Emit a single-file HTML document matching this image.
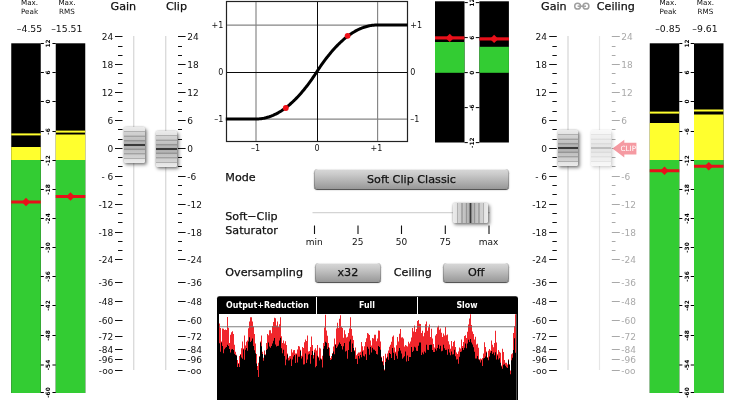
<!DOCTYPE html>
<html lang="en"><head><meta charset="utf-8"><title>Soft Clip</title>
<style>
html,body{margin:0;padding:0;background:#fff;}
body{width:735px;height:400px;position:relative;overflow:hidden;font-family:"DejaVu Sans","Liberation Sans",sans-serif;color:#111;}
#ui{position:absolute;left:0;top:0;width:735px;height:400px;}
svg{position:absolute;left:0;top:0;}
svg text{font-family:"DejaVu Sans","Liberation Sans",sans-serif;}
.lbl{position:absolute;white-space:nowrap;font-size:11.15px;line-height:14px;color:#111;-webkit-text-stroke:.25px #111;}
.sm{position:absolute;white-space:nowrap;font-size:7.2px;line-height:9.3px;text-align:center;color:#111;}
.val{position:absolute;white-space:nowrap;font-size:9.3px;line-height:12px;text-align:center;color:#111;}
.btn{position:absolute;box-sizing:border-box;height:19px;border:0;border-radius:3.5px;-webkit-text-stroke:.25px #111;padding:1.4px 0 0 0;margin:0;
 font-family:"DejaVu Sans","Liberation Sans",sans-serif;font-size:11.2px;line-height:18.5px;color:#111;text-align:center;
 background:linear-gradient(#d9d9d9 0%,#cbcbcb 25%,#b0b0b0 65%,#989898 100%);
 box-shadow:0 .8px 0 #3a3a3a,0 1px 1.5px rgba(0,0,0,.4),inset 1px 0 0 rgba(0,0,0,.18),inset -1px 0 0 rgba(0,0,0,.18),inset 0 1px 0 rgba(255,255,255,.5);}
.knob{position:absolute;box-sizing:border-box;border-radius:2px;box-shadow:1.5px 2px 3.5px rgba(0,0,0,.45),0 0 2px rgba(0,0,0,.3);}
.kv{width:20.6px;height:36px;background:linear-gradient(180deg,#ebebeb 0,#e4e4e4 10%,#b0b0b0 11.5%,#b0b0b0 13.5%,#d2d2d2 15%,#cecece 23%,#a2a2a2 24.5%,#a2a2a2 27%,#c6c6c6 28.5%,#c0c0c0 35.5%,#969696 37%,#969696 39.5%,#b8b8b8 41%,#b0b0b0 46.5%,#3a3a3a 48.2%,#3a3a3a 51.8%,#b0b0b0 53.5%,#b8b8b8 59%,#969696 60.5%,#969696 63%,#c0c0c0 64.5%,#c6c6c6 71.5%,#a2a2a2 73%,#a2a2a2 75.5%,#cecece 77%,#d2d2d2 85%,#b0b0b0 86.5%,#b0b0b0 88.5%,#e4e4e4 90%,#ebebeb 100%);}
.kh{width:35.5px;height:20.4px;background:linear-gradient(90deg,#ebebeb 0,#e4e4e4 10%,#b0b0b0 11.5%,#b0b0b0 13.5%,#d2d2d2 15%,#cecece 23%,#a2a2a2 24.5%,#a2a2a2 27%,#c6c6c6 28.5%,#c0c0c0 35.5%,#969696 37%,#969696 39.5%,#b8b8b8 41%,#b0b0b0 46.5%,#3a3a3a 48.2%,#3a3a3a 51.8%,#b0b0b0 53.5%,#b8b8b8 59%,#969696 60.5%,#969696 63%,#c0c0c0 64.5%,#c6c6c6 71.5%,#a2a2a2 73%,#a2a2a2 75.5%,#cecece 77%,#d2d2d2 85%,#b0b0b0 86.5%,#b0b0b0 88.5%,#e4e4e4 90%,#ebebeb 100%);}
.hdr{position:absolute;top:297px;height:16px;line-height:16px;font-family:"DejaVu Sans Condensed","DejaVu Sans","Liberation Sans",sans-serif;font-weight:bold;font-size:8.8px;color:#fff;text-align:center;white-space:nowrap;}
</style></head><body><div id="ui">
<svg width="735" height="400" viewBox="0 0 735 400" font-size="9">

<g id="meters-in">
<rect x="11.25" y="43.3" width="29.5" height="349.7" fill="#000"/>
<rect x="11.25" y="147" width="29.5" height="13" fill="#ffff2e"/>
<rect x="11.25" y="160" width="29.5" height="233.0" fill="#33cc33"/>
<rect x="11.25" y="133.4" width="29.5" height="2" fill="#ffff2e"/>
<rect x="11.25" y="200.5" width="29.5" height="3" fill="#e8101a"/>
<path d="M21.8 202L26.0 197.8L30.2 202L26.0 206.2Z" fill="#e8101a"/>
<rect x="55.75" y="43.3" width="29.5" height="349.7" fill="#000"/>
<rect x="55.75" y="134.5" width="29.5" height="25.5" fill="#ffff2e"/>
<rect x="55.75" y="160" width="29.5" height="233.0" fill="#33cc33"/>
<rect x="55.75" y="130.6" width="29.5" height="2" fill="#ffff2e"/>
<rect x="55.75" y="195.0" width="29.5" height="3" fill="#e8101a"/>
<path d="M66.3 196.5L70.5 192.3L74.7 196.5L70.5 200.7Z" fill="#e8101a"/>
<path d="M40.75 43.5h3.1M55.75 43.5h-3.3" stroke="#000" stroke-width="1"/>
<text transform="translate(50.35 43.5) rotate(-90)" text-anchor="middle" font-family='"Liberation Sans",sans-serif' font-weight="bold" font-size="5.9">12</text>
<path d="M40.75 72.5h3.1M55.75 72.5h-3.3" stroke="#000" stroke-width="1"/>
<text transform="translate(50.35 72.5) rotate(-90)" text-anchor="middle" font-family='"Liberation Sans",sans-serif' font-weight="bold" font-size="5.9">6</text>
<path d="M40.75 101.5h3.1M55.75 101.5h-3.3" stroke="#000" stroke-width="1"/>
<text transform="translate(50.35 101.5) rotate(-90)" text-anchor="middle" font-family='"Liberation Sans",sans-serif' font-weight="bold" font-size="5.9">0</text>
<path d="M40.75 131.5h3.1M55.75 131.5h-3.3" stroke="#000" stroke-width="1"/>
<text transform="translate(50.35 131.5) rotate(-90)" text-anchor="middle" font-family='"Liberation Sans",sans-serif' font-weight="bold" font-size="5.9">-6</text>
<path d="M40.75 160.5h3.1M55.75 160.5h-3.3" stroke="#000" stroke-width="1"/>
<text transform="translate(50.35 160.5) rotate(-90)" text-anchor="middle" font-family='"Liberation Sans",sans-serif' font-weight="bold" font-size="5.9">-12</text>
<path d="M40.75 189.5h3.1M55.75 189.5h-3.3" stroke="#000" stroke-width="1"/>
<text transform="translate(50.35 189.5) rotate(-90)" text-anchor="middle" font-family='"Liberation Sans",sans-serif' font-weight="bold" font-size="5.9">-18</text>
<path d="M40.75 218.5h3.1M55.75 218.5h-3.3" stroke="#000" stroke-width="1"/>
<text transform="translate(50.35 218.5) rotate(-90)" text-anchor="middle" font-family='"Liberation Sans",sans-serif' font-weight="bold" font-size="5.9">-24</text>
<path d="M40.75 247.5h3.1M55.75 247.5h-3.3" stroke="#000" stroke-width="1"/>
<text transform="translate(50.35 247.5) rotate(-90)" text-anchor="middle" font-family='"Liberation Sans",sans-serif' font-weight="bold" font-size="5.9">-30</text>
<path d="M40.75 276.5h3.1M55.75 276.5h-3.3" stroke="#000" stroke-width="1"/>
<text transform="translate(50.35 276.5) rotate(-90)" text-anchor="middle" font-family='"Liberation Sans",sans-serif' font-weight="bold" font-size="5.9">-36</text>
<path d="M40.75 305.5h3.1M55.75 305.5h-3.3" stroke="#000" stroke-width="1"/>
<text transform="translate(50.35 305.5) rotate(-90)" text-anchor="middle" font-family='"Liberation Sans",sans-serif' font-weight="bold" font-size="5.9">-42</text>
<path d="M40.75 335.5h3.1M55.75 335.5h-3.3" stroke="#000" stroke-width="1"/>
<text transform="translate(50.35 335.5) rotate(-90)" text-anchor="middle" font-family='"Liberation Sans",sans-serif' font-weight="bold" font-size="5.9">-48</text>
<path d="M40.75 365.0h3.1M55.75 365.0h-3.3" stroke="#000" stroke-width="1"/>
<text transform="translate(50.35 365.0) rotate(-90)" text-anchor="middle" font-family='"Liberation Sans",sans-serif' font-weight="bold" font-size="5.9">-54</text>
<path d="M40.75 392.5h3.1M55.75 392.5h-3.3" stroke="#000" stroke-width="1"/>
<text transform="translate(50.35 392.5) rotate(-90)" text-anchor="middle" font-family='"Liberation Sans",sans-serif' font-weight="bold" font-size="5.9">-60</text>
</g>
<g id="meters-out">
<rect x="649.75" y="43.3" width="29.5" height="349.7" fill="#000"/>
<rect x="649.75" y="123" width="29.5" height="37" fill="#ffff2e"/>
<rect x="649.75" y="160" width="29.5" height="233.0" fill="#33cc33"/>
<rect x="649.75" y="111.6" width="29.5" height="2" fill="#ffff2e"/>
<rect x="649.75" y="169.25" width="29.5" height="3" fill="#e8101a"/>
<path d="M660.3 170.75L664.5 166.55L668.7 170.75L664.5 174.95Z" fill="#e8101a"/>
<rect x="694.0" y="43.3" width="29.5" height="349.7" fill="#000"/>
<rect x="694.0" y="114.5" width="29.5" height="45.5" fill="#ffff2e"/>
<rect x="694.0" y="160" width="29.5" height="233.0" fill="#33cc33"/>
<rect x="694.0" y="109.5" width="29.5" height="2" fill="#ffff2e"/>
<rect x="694.0" y="164.75" width="29.5" height="3" fill="#e8101a"/>
<path d="M704.55 166.25L708.75 162.05L712.95 166.25L708.75 170.45Z" fill="#e8101a"/>
<path d="M679.25 43.5h3.1M694.0 43.5h-3.3" stroke="#000" stroke-width="1"/>
<text transform="translate(688.725 43.5) rotate(-90)" text-anchor="middle" font-family='"Liberation Sans",sans-serif' font-weight="bold" font-size="5.9">12</text>
<path d="M679.25 72.5h3.1M694.0 72.5h-3.3" stroke="#000" stroke-width="1"/>
<text transform="translate(688.725 72.5) rotate(-90)" text-anchor="middle" font-family='"Liberation Sans",sans-serif' font-weight="bold" font-size="5.9">6</text>
<path d="M679.25 101.5h3.1M694.0 101.5h-3.3" stroke="#000" stroke-width="1"/>
<text transform="translate(688.725 101.5) rotate(-90)" text-anchor="middle" font-family='"Liberation Sans",sans-serif' font-weight="bold" font-size="5.9">0</text>
<path d="M679.25 131.5h3.1M694.0 131.5h-3.3" stroke="#000" stroke-width="1"/>
<text transform="translate(688.725 131.5) rotate(-90)" text-anchor="middle" font-family='"Liberation Sans",sans-serif' font-weight="bold" font-size="5.9">-6</text>
<path d="M679.25 160.5h3.1M694.0 160.5h-3.3" stroke="#000" stroke-width="1"/>
<text transform="translate(688.725 160.5) rotate(-90)" text-anchor="middle" font-family='"Liberation Sans",sans-serif' font-weight="bold" font-size="5.9">-12</text>
<path d="M679.25 189.5h3.1M694.0 189.5h-3.3" stroke="#000" stroke-width="1"/>
<text transform="translate(688.725 189.5) rotate(-90)" text-anchor="middle" font-family='"Liberation Sans",sans-serif' font-weight="bold" font-size="5.9">-18</text>
<path d="M679.25 218.5h3.1M694.0 218.5h-3.3" stroke="#000" stroke-width="1"/>
<text transform="translate(688.725 218.5) rotate(-90)" text-anchor="middle" font-family='"Liberation Sans",sans-serif' font-weight="bold" font-size="5.9">-24</text>
<path d="M679.25 247.5h3.1M694.0 247.5h-3.3" stroke="#000" stroke-width="1"/>
<text transform="translate(688.725 247.5) rotate(-90)" text-anchor="middle" font-family='"Liberation Sans",sans-serif' font-weight="bold" font-size="5.9">-30</text>
<path d="M679.25 276.5h3.1M694.0 276.5h-3.3" stroke="#000" stroke-width="1"/>
<text transform="translate(688.725 276.5) rotate(-90)" text-anchor="middle" font-family='"Liberation Sans",sans-serif' font-weight="bold" font-size="5.9">-36</text>
<path d="M679.25 305.5h3.1M694.0 305.5h-3.3" stroke="#000" stroke-width="1"/>
<text transform="translate(688.725 305.5) rotate(-90)" text-anchor="middle" font-family='"Liberation Sans",sans-serif' font-weight="bold" font-size="5.9">-42</text>
<path d="M679.25 335.5h3.1M694.0 335.5h-3.3" stroke="#000" stroke-width="1"/>
<text transform="translate(688.725 335.5) rotate(-90)" text-anchor="middle" font-family='"Liberation Sans",sans-serif' font-weight="bold" font-size="5.9">-48</text>
<path d="M679.25 365.0h3.1M694.0 365.0h-3.3" stroke="#000" stroke-width="1"/>
<text transform="translate(688.725 365.0) rotate(-90)" text-anchor="middle" font-family='"Liberation Sans",sans-serif' font-weight="bold" font-size="5.9">-54</text>
<path d="M679.25 392.5h3.1M694.0 392.5h-3.3" stroke="#000" stroke-width="1"/>
<text transform="translate(688.725 392.5) rotate(-90)" text-anchor="middle" font-family='"Liberation Sans",sans-serif' font-weight="bold" font-size="5.9">-60</text>
</g>
<path d="M133.75 36V370M165.75 36V370M568 36V370" stroke="#d4d4d4" stroke-width="1.15"/>
<path d="M599.5 36V370" stroke="#e6e6e6" stroke-width="1.15"/>
<g id="scale-gain-l"><path d="M118 46.5H122.5M118 55.5H122.5M118 73.5H122.5M118 83.5H122.5M118 101.5H122.5M118 111.5H122.5M118 129.5H122.5M118 139.5H122.5M118 157.5H122.5M118 166.5H122.5M118 185.5H122.5M118 194.5H122.5M118 213.5H122.5M118 222.5H122.5M118 241.5H122.5M118 250.5H122.5M115 36.5H122.5M115 64.5H122.5M115 92.5H122.5M115 120.5H122.5M115 148.5H122.5M115 176.5H122.5M115 204.5H122.5M115 232.5H122.5M115 259.5H122.5M115 282.5H122.5M115 301.5H122.5M115 320.5H122.5M115 336.5H122.5M115 349.5H122.5M115 359.5H122.5M115 370.5H122.5" stroke="#111" stroke-width="1" fill="none"/>
<text x="113.3" y="39.70" text-anchor="end" fill="#111">24</text>
<text x="113.3" y="67.70" text-anchor="end" fill="#111">18</text>
<text x="113.3" y="95.70" text-anchor="end" fill="#111">12</text>
<text x="113.3" y="123.70" text-anchor="end" fill="#111">6</text>
<text x="113.3" y="151.70" text-anchor="end" fill="#111">0</text>
<text x="113.3" y="179.70" text-anchor="end" fill="#111">- 6</text>
<text x="113.3" y="207.70" text-anchor="end" fill="#111">-12</text>
<text x="113.3" y="235.70" text-anchor="end" fill="#111">-18</text>
<text x="113.3" y="262.70" text-anchor="end" fill="#111">-24</text>
<text x="113.3" y="285.70" text-anchor="end" fill="#111">-36</text>
<text x="113.3" y="304.70" text-anchor="end" fill="#111">-48</text>
<text x="113.3" y="323.70" text-anchor="end" fill="#111">-60</text>
<text x="113.3" y="339.70" text-anchor="end" fill="#111">-72</text>
<text x="113.3" y="352.70" text-anchor="end" fill="#111">-84</text>
<text x="113.3" y="362.70" text-anchor="end" fill="#111">-96</text>
<text x="113.3" y="373.70" text-anchor="end" fill="#111">-oo</text></g>
<g id="scale-clip"><path d="M178 46.5H182M178 55.5H182M178 73.5H182M178 83.5H182M178 101.5H182M178 111.5H182M178 129.5H182M178 139.5H182M178 157.5H182M178 166.5H182M178 185.5H182M178 194.5H182M178 213.5H182M178 222.5H182M178 241.5H182M178 250.5H182M178 36.5H185.6M178 64.5H185.6M178 92.5H185.6M178 120.5H185.6M178 148.5H185.6M178 176.5H185.6M178 204.5H185.6M178 232.5H185.6M178 259.5H185.6M178 282.5H185.6M178 301.5H185.6M178 320.5H185.6M178 336.5H185.6M178 349.5H185.6M178 359.5H185.6M178 370.5H185.6" stroke="#111" stroke-width="1" fill="none"/>
<text x="187.2" y="39.70" text-anchor="start" fill="#111">24</text>
<text x="187.2" y="67.70" text-anchor="start" fill="#111">18</text>
<text x="187.2" y="95.70" text-anchor="start" fill="#111">12</text>
<text x="187.2" y="123.70" text-anchor="start" fill="#111">6</text>
<text x="187.2" y="151.70" text-anchor="start" fill="#111">0</text>
<text x="187.2" y="179.70" text-anchor="start" fill="#111">-6</text>
<text x="187.2" y="207.70" text-anchor="start" fill="#111">-12</text>
<text x="187.2" y="235.70" text-anchor="start" fill="#111">-18</text>
<text x="187.2" y="262.70" text-anchor="start" fill="#111">-24</text>
<text x="187.2" y="285.70" text-anchor="start" fill="#111">-36</text>
<text x="187.2" y="304.70" text-anchor="start" fill="#111">-48</text>
<text x="187.2" y="323.70" text-anchor="start" fill="#111">-60</text>
<text x="187.2" y="339.70" text-anchor="start" fill="#111">-72</text>
<text x="187.2" y="352.70" text-anchor="start" fill="#111">-84</text>
<text x="187.2" y="362.70" text-anchor="start" fill="#111">-96</text>
<text x="187.2" y="373.70" text-anchor="start" fill="#111">-oo</text></g>
<g id="scale-gain-r"><path d="M552.4 46.5H556.8M552.4 55.5H556.8M552.4 73.5H556.8M552.4 83.5H556.8M552.4 101.5H556.8M552.4 111.5H556.8M552.4 129.5H556.8M552.4 139.5H556.8M552.4 157.5H556.8M552.4 166.5H556.8M552.4 185.5H556.8M552.4 194.5H556.8M552.4 213.5H556.8M552.4 222.5H556.8M552.4 241.5H556.8M552.4 250.5H556.8M549.2 36.5H556.8M549.2 64.5H556.8M549.2 92.5H556.8M549.2 120.5H556.8M549.2 148.5H556.8M549.2 176.5H556.8M549.2 204.5H556.8M549.2 232.5H556.8M549.2 259.5H556.8M549.2 282.5H556.8M549.2 301.5H556.8M549.2 320.5H556.8M549.2 336.5H556.8M549.2 349.5H556.8M549.2 359.5H556.8M549.2 370.5H556.8" stroke="#111" stroke-width="1" fill="none"/>
<text x="547" y="39.70" text-anchor="end" fill="#111">24</text>
<text x="547" y="67.70" text-anchor="end" fill="#111">18</text>
<text x="547" y="95.70" text-anchor="end" fill="#111">12</text>
<text x="547" y="123.70" text-anchor="end" fill="#111">6</text>
<text x="547" y="151.70" text-anchor="end" fill="#111">0</text>
<text x="547" y="179.70" text-anchor="end" fill="#111">- 6</text>
<text x="547" y="207.70" text-anchor="end" fill="#111">-12</text>
<text x="547" y="235.70" text-anchor="end" fill="#111">-18</text>
<text x="547" y="262.70" text-anchor="end" fill="#111">-24</text>
<text x="547" y="285.70" text-anchor="end" fill="#111">-36</text>
<text x="547" y="304.70" text-anchor="end" fill="#111">-48</text>
<text x="547" y="323.70" text-anchor="end" fill="#111">-60</text>
<text x="547" y="339.70" text-anchor="end" fill="#111">-72</text>
<text x="547" y="352.70" text-anchor="end" fill="#111">-84</text>
<text x="547" y="362.70" text-anchor="end" fill="#111">-96</text>
<text x="547" y="373.70" text-anchor="end" fill="#111">-oo</text></g>
<g id="scale-ceil"><path d="M611.8 46.5H615.5M611.8 55.5H615.5M611.8 73.5H615.5M611.8 83.5H615.5M611.8 101.5H615.5M611.8 111.5H615.5M611.8 129.5H615.5M611.8 139.5H615.5M611.8 157.5H615.5M611.8 166.5H615.5M611.8 185.5H615.5M611.8 194.5H615.5M611.8 213.5H615.5M611.8 222.5H615.5M611.8 241.5H615.5M611.8 250.5H615.5M611.8 36.5H619.8M611.8 64.5H619.8M611.8 92.5H619.8M611.8 120.5H619.8M611.8 148.5H619.8M611.8 176.5H619.8M611.8 204.5H619.8M611.8 232.5H619.8M611.8 259.5H619.8M611.8 282.5H619.8M611.8 301.5H619.8M611.8 320.5H619.8M611.8 336.5H619.8M611.8 349.5H619.8M611.8 359.5H619.8M611.8 370.5H619.8" stroke="#a9a9a9" stroke-width="1" fill="none"/>
<text x="621.2" y="39.70" text-anchor="start" fill="#a9a9a9">24</text>
<text x="621.2" y="67.70" text-anchor="start" fill="#a9a9a9">18</text>
<text x="621.2" y="95.70" text-anchor="start" fill="#a9a9a9">12</text>
<text x="621.2" y="123.70" text-anchor="start" fill="#a9a9a9">6</text>
<text x="621.2" y="151.70" text-anchor="start" fill="#a9a9a9">0</text>
<text x="621.2" y="179.70" text-anchor="start" fill="#a9a9a9">-6</text>
<text x="621.2" y="207.70" text-anchor="start" fill="#a9a9a9">-12</text>
<text x="621.2" y="235.70" text-anchor="start" fill="#a9a9a9">-18</text>
<text x="621.2" y="262.70" text-anchor="start" fill="#a9a9a9">-24</text>
<text x="621.2" y="285.70" text-anchor="start" fill="#a9a9a9">-36</text>
<text x="621.2" y="304.70" text-anchor="start" fill="#a9a9a9">-48</text>
<text x="621.2" y="323.70" text-anchor="start" fill="#a9a9a9">-60</text>
<text x="621.2" y="339.70" text-anchor="start" fill="#a9a9a9">-72</text>
<text x="621.2" y="352.70" text-anchor="start" fill="#a9a9a9">-84</text>
<text x="621.2" y="362.70" text-anchor="start" fill="#a9a9a9">-96</text>
<text x="621.2" y="373.70" text-anchor="start" fill="#a9a9a9">-oo</text></g>
<g id="graph">
<rect x="226.5" y="1.5" width="181.0" height="140.0" fill="#fff" stroke="#222" stroke-width="1.2"/>
<path d="M256 2V141M377.6 2V141M227 25.1H407M227 119.1H407" stroke="#858585" stroke-width="1.15" fill="none"/>
<path d="M317.5 2V141M227 72.5H407" stroke="#0a0a0a" stroke-width="1" fill="none"/>
<path d="M225.80 119.00L226.71 119.00L227.62 119.00L228.53 119.00L229.44 119.00L230.34 119.00L231.25 119.00L232.16 119.00L233.07 119.00L233.98 119.00L234.89 119.00L235.80 119.00L236.71 119.00L237.62 119.00L238.53 119.00L239.44 119.00L240.34 119.00L241.25 119.00L242.16 119.00L243.07 119.00L243.98 119.00L244.89 119.00L245.80 119.00L246.71 119.00L247.62 119.00L248.52 119.00L249.43 119.00L250.34 119.00L251.25 119.00L252.16 119.00L253.07 119.00L253.98 119.00L254.89 119.00L255.80 119.00L256.71 119.00L257.62 118.97L258.52 118.92L259.43 118.86L260.34 118.77L261.25 118.66L262.16 118.53L263.07 118.38L263.98 118.21L264.89 118.01L265.80 117.80L266.70 117.56L267.61 117.30L268.52 117.02L269.43 116.73L270.34 116.40L271.25 116.06L272.16 115.70L273.07 115.32L273.98 114.91L274.89 114.48L275.79 114.04L276.70 113.57L277.61 113.08L278.52 112.57L279.43 112.03L280.34 111.48L281.25 110.91L282.16 110.31L283.07 109.69L283.98 109.05L284.88 108.40L285.79 107.72L286.70 107.01L287.61 106.29L288.52 105.55L289.43 104.78L290.34 104.00L291.25 103.19L292.16 102.36L293.07 101.51L293.97 100.64L294.88 99.75L295.79 98.84L296.70 97.90L297.61 96.95L298.52 95.97L299.43 94.97L300.34 93.95L301.25 92.91L302.16 91.85L303.06 90.77L303.97 89.67L304.88 88.54L305.79 87.40L306.70 86.23L307.61 85.04L308.52 83.83L309.43 82.60L310.34 81.35L311.25 80.08L312.15 78.79L313.06 77.47L313.97 76.13L314.88 74.78L315.79 73.40L316.70 72.00L317.61 70.60L318.52 69.22L319.43 67.87L320.34 66.53L321.25 65.21L322.15 63.92L323.06 62.65L323.97 61.40L324.88 60.17L325.79 58.96L326.70 57.77L327.61 56.60L328.52 55.46L329.43 54.33L330.33 53.23L331.24 52.15L332.15 51.09L333.06 50.05L333.97 49.03L334.88 48.03L335.79 47.05L336.70 46.10L337.61 45.16L338.52 44.25L339.43 43.36L340.33 42.49L341.24 41.64L342.15 40.81L343.06 40.00L343.97 39.22L344.88 38.45L345.79 37.71L346.70 36.99L347.61 36.28L348.51 35.60L349.42 34.95L350.33 34.31L351.24 33.69L352.15 33.09L353.06 32.52L353.97 31.97L354.88 31.43L355.79 30.92L356.70 30.43L357.60 29.96L358.51 29.52L359.42 29.09L360.33 28.68L361.24 28.30L362.15 27.94L363.06 27.60L363.97 27.27L364.88 26.98L365.79 26.70L366.69 26.44L367.60 26.20L368.51 25.99L369.42 25.79L370.33 25.62L371.24 25.47L372.15 25.34L373.06 25.23L373.97 25.14L374.88 25.08L375.78 25.03L376.69 25.00L377.60 25.00L378.51 25.00L379.42 25.00L380.33 25.00L381.24 25.00L382.15 25.00L383.06 25.00L383.97 25.00L384.88 25.00L385.78 25.00L386.69 25.00L387.60 25.00L388.51 25.00L389.42 25.00L390.33 25.00L391.24 25.00L392.15 25.00L393.06 25.00L393.96 25.00L394.87 25.00L395.78 25.00L396.69 25.00L397.60 25.00L398.51 25.00L399.42 25.00L400.33 25.00L401.24 25.00L402.15 25.00L403.05 25.00L403.96 25.00L404.87 25.00L405.78 25.00L406.69 25.00L407.60 25.00" stroke="#000" stroke-width="3" fill="none" stroke-linejoin="round"/>
<circle cx="347.6" cy="35.8" r="2.9" fill="#f01018"/>
<circle cx="285.8" cy="108" r="2.9" fill="#f01018"/>
<g font-size="8" fill="#111">
<text x="223.4" y="28" text-anchor="end">+1</text>
<text x="223.4" y="75" text-anchor="end">0</text>
<text x="223.4" y="122" text-anchor="end">–1</text>
<text x="410.3" y="28">+1</text>
<text x="410.3" y="75">0</text>
<text x="410.3" y="122">–1</text>
<text x="255.5" y="150.6" text-anchor="middle">–1</text>
<text x="317" y="150.6" text-anchor="middle">0</text>
<text x="376.5" y="150.6" text-anchor="middle">+1</text>
</g></g>
<g id="gr"><rect x="435" y="1.3" width="29.5" height="141.2" fill="#000"/>
<rect x="435" y="42" width="29.5" height="30.799999999999997" fill="#33cc33"/>
<rect x="435" y="36.3" width="29.5" height="3.2" fill="#e8101a"/>
<path d="M445.55 37.9L449.75 33.699999999999996L453.95 37.9L449.75 42.1Z" fill="#e8101a"/>
<rect x="479.4" y="1.3" width="29.5" height="141.2" fill="#000"/>
<rect x="479.4" y="46.8" width="29.5" height="26.0" fill="#33cc33"/>
<rect x="479.4" y="37.3" width="29.5" height="3.2" fill="#e8101a"/>
<path d="M489.95 38.9L494.15 34.699999999999996L498.34999999999997 38.9L494.15 43.1Z" fill="#e8101a"/>
<path d="M464.5 2.5999999999999943h3.3M479.4 2.5999999999999943h-3.6" stroke="#000" stroke-width="1"/>
<text transform="translate(474.1 2.5999999999999943) rotate(-90)" text-anchor="middle" font-family='"Liberation Sans",sans-serif' font-weight="bold" font-size="5.9">12</text>
<path d="M464.5 37.599999999999994h3.3M479.4 37.599999999999994h-3.6" stroke="#000" stroke-width="1"/>
<text transform="translate(474.1 37.599999999999994) rotate(-90)" text-anchor="middle" font-family='"Liberation Sans",sans-serif' font-weight="bold" font-size="5.9">6</text>
<path d="M464.5 72.6h3.3M479.4 72.6h-3.6" stroke="#000" stroke-width="1"/>
<text transform="translate(474.1 72.6) rotate(-90)" text-anchor="middle" font-family='"Liberation Sans",sans-serif' font-weight="bold" font-size="5.9">0</text>
<path d="M464.5 107.6h3.3M479.4 107.6h-3.6" stroke="#000" stroke-width="1"/>
<text transform="translate(474.1 107.6) rotate(-90)" text-anchor="middle" font-family='"Liberation Sans",sans-serif' font-weight="bold" font-size="5.9">-6</text>
<path d="M464.5 142.6h3.3M479.4 142.6h-3.6" stroke="#000" stroke-width="1"/>
<text transform="translate(474.1 142.6) rotate(-90)" text-anchor="middle" font-family='"Liberation Sans",sans-serif' font-weight="bold" font-size="5.9">-12</text></g>
<path d="M312.5 212.6H490" stroke="#d4d4d4" stroke-width="1.2"/>
<path d="M314.5 225.6v8.4M358 225.6v8.4M401.5 225.6v8.4M445.3 225.6v8.4M489 225.6v8.4" stroke="#111" stroke-width="1.1"/>
<g font-size="9" text-anchor="middle" fill="#111"><text x="314.3" y="245">min</text><text x="357.8" y="245">25</text><text x="401.5" y="245">50</text><text x="445.3" y="245">75</text><text x="488.6" y="245">max</text></g>
<g id="wave">
<path d="M217 400V298.5Q217 296.2 219.3 296.2H515.7Q518 296.2 518 298.5V400Z" fill="#000"/>
<rect x="219" y="314" width="297.3" height="86" fill="#fff"/>
<path d="M219 400V323.6H220.0V328.0H221.0V341.5H222.0V328.4H223.0V328.8H224.0V330.0H225.0V329.6H226.0V330.0H227.0V317.0H228.0V327.8H229.0V342.9H230.0V334.8H231.0V332.2H232.0V331.2H233.0V334.1H234.0V344.8H235.0V351.7H236.0V354.7H237.0V360.1H238.0V362.9H239.0V356.1H240.0V354.1H241.0V348.2H242.0V341.4H243.0V348.5H244.0V335.6H245.0V345.4H246.0V341.7H247.0V340.6H248.0V328.2H249.0V321.6H250.0V317.3H251.0V317.2H252.0V321.5H253.0V326.5H254.0V334.1H255.0V343.5H256.0V354.1H257.0V365.9H258.0V362.7H259.0V356.0H260.0V341.5H261.0V335.5H262.0V351.7H263.0V357.7H264.0V350.5H265.0V354.3H266.0V343.1H267.0V334.1H268.0V335.3H269.0V330.3H270.0V330.3H271.0V333.2H272.0V325.9H273.0V321.9H274.0V317.7H275.0V318.3H276.0V325.6H277.0V321.6H278.0V326.9H279.0V324.2H280.0V317.3H281.0V336.2H282.0V343.1H283.0V340.4H284.0V343.5H285.0V341.2H286.0V345.1H287.0V353.4H288.0V357.8H289.0V356.2H290.0V356.0H291.0V349.3H292.0V352.6H293.0V350.2H294.0V350.0H295.0V353.4H296.0V353.4H297.0V349.4H298.0V345.9H299.0V346.5H300.0V349.8H301.0V355.8H302.0V347.0H303.0V347.9H304.0V342.3H305.0V339.4H306.0V340.9H307.0V335.5H308.0V351.6H309.0V350.9H310.0V347.0H311.0V336.6H312.0V345.0H313.0V355.1H314.0V349.8H315.0V348.2H316.0V350.4H317.0V344.9H318.0V356.7H319.0V347.8H320.0V348.5H321.0V358.8H322.0V355.8H323.0V343.0H324.0V327.6H325.0V314.7H326.0V330.5H327.0V335.7H328.0V342.9H329.0V347.7H330.0V358.1H331.0V356.0H332.0V353.0H333.0V346.4H334.0V338.5H335.0V343.9H336.0V328.6H337.0V322.7H338.0V327.9H339.0V318.7H340.0V315.3H341.0V326.7H342.0V328.1H343.0V337.8H344.0V330.2H345.0V334.2H346.0V337.4H347.0V336.8H348.0V333.1H349.0V328.4H350.0V317.2H351.0V328.9H352.0V335.7H353.0V340.1H354.0V350.3H355.0V347.6H356.0V355.2H357.0V353.8H358.0V352.4H359.0V352.5H360.0V351.7H361.0V342.1H362.0V346.3H363.0V350.3H364.0V346.3H365.0V342.0H366.0V338.2H367.0V333.0H368.0V333.8H369.0V334.9H370.0V340.6H371.0V345.4H372.0V338.0H373.0V338.5H374.0V334.8H375.0V334.7H376.0V341.2H377.0V338.5H378.0V330.6H379.0V330.7H380.0V341.6H381.0V356.8H382.0V361.1H383.0V356.1H384.0V369.5H385.0V353.7H386.0V357.7H387.0V353.5H388.0V350.6H389.0V346.8H390.0V344.7H391.0V341.8H392.0V336.7H393.0V335.4H394.0V347.6H395.0V351.8H396.0V345.2H397.0V337.0H398.0V341.6H399.0V333.8H400.0V328.9H401.0V337.4H402.0V337.2H403.0V338.4H404.0V346.6H405.0V345.1H406.0V345.8H407.0V346.5H408.0V341.8H409.0V343.6H410.0V341.4H411.0V337.5H412.0V327.9H413.0V331.5H414.0V325.5H415.0V332.1H416.0V329.1H417.0V321.0H418.0V319.9H419.0V323.7H420.0V324.1H421.0V333.0H422.0V330.7H423.0V336.3H424.0V332.8H425.0V324.2H426.0V321.4H427.0V330.8H428.0V327.3H429.0V324.4H430.0V336.9H431.0V328.8H432.0V338.6H433.0V344.0H434.0V347.5H435.0V335.6H436.0V333.9H437.0V327.3H438.0V325.8H439.0V329.8H440.0V328.4H441.0V332.7H442.0V336.9H443.0V333.5H444.0V335.5H445.0V327.1H446.0V335.3H447.0V334.6H448.0V341.2H449.0V344.5H450.0V348.7H451.0V341.1H452.0V346.2H453.0V341.9H454.0V340.8H455.0V347.0H456.0V352.6H457.0V354.1H458.0V351.6H459.0V347.6H460.0V348.5H461.0V339.6H462.0V346.0H463.0V342.0H464.0V336.1H465.0V335.3H466.0V337.9H467.0V331.7H468.0V324.6H469.0V318.6H470.0V314.3H471.0V324.9H472.0V331.6H473.0V333.9H474.0V339.4H475.0V336.8H476.0V344.5H477.0V343.8H478.0V347.8H479.0V359.2H480.0V358.6H481.0V359.3H482.0V358.1H483.0V353.5H484.0V342.2H485.0V347.1H486.0V351.5H487.0V356.9H488.0V350.7H489.0V349.0H490.0V350.6H491.0V340.5H492.0V344.8H493.0V347.3H494.0V343.1H495.0V330.8H496.0V342.4H497.0V354.2H498.0V349.9H499.0V351.7H500.0V352.8H501.0V365.4H502.0V348.7H503.0V351.9H504.0V360.1H505.0V362.7H506.0V362.7H507.0V364.5H508.0V359.3H509.0V364.1H510.0V370.6H511.0V354.3H512.0V353.3H513.0V333.1H514.0V325.9H515.0V314.3H516.0V400Z" fill="#f0262c"/>
<path d="M219 400V343.2H220.0V351.7H221.0V342.5H222.0V346.0H223.0V353.2H224.0V349.2H225.0V347.7H226.0V347.0H227.0V344.7H228.0V346.1H229.0V348.9H230.0V352.5H231.0V349.5H232.0V349.0H233.0V349.9H234.0V353.8H235.0V354.9H236.0V355.7H237.0V367.0H238.0V363.9H239.0V367.0H240.0V355.1H241.0V357.4H242.0V358.7H243.0V349.5H244.0V359.8H245.0V349.8H246.0V347.9H247.0V350.8H248.0V341.4H249.0V337.3H250.0V341.9H251.0V340.8H252.0V338.6H253.0V346.0H254.0V350.3H255.0V353.2H256.0V363.6H257.0V370.1H258.0V377.1H259.0V357.0H260.0V342.5H261.0V346.3H262.0V353.9H263.0V360.7H264.0V354.8H265.0V355.3H266.0V350.1H267.0V348.8H268.0V342.5H269.0V346.6H270.0V347.8H271.0V346.0H272.0V343.4H273.0V340.7H274.0V338.1H275.0V344.5H276.0V346.6H277.0V346.0H278.0V345.7H279.0V340.4H280.0V337.7H281.0V348.2H282.0V353.3H283.0V349.7H284.0V356.1H285.0V365.2H286.0V359.6H287.0V354.4H288.0V360.4H289.0V360.2H290.0V358.7H291.0V366.1H292.0V359.5H293.0V356.6H294.0V355.1H295.0V363.1H296.0V354.4H297.0V362.5H298.0V356.7H299.0V356.7H300.0V350.8H301.0V358.6H302.0V356.4H303.0V364.4H304.0V364.2H305.0V353.4H306.0V363.1H307.0V359.5H308.0V354.6H309.0V353.7H310.0V363.7H311.0V355.1H312.0V350.9H313.0V358.5H314.0V352.6H315.0V367.2H316.0V365.9H317.0V355.7H318.0V357.7H319.0V360.4H320.0V358.5H321.0V359.8H322.0V367.4H323.0V348.7H324.0V346.1H325.0V341.8H326.0V342.8H327.0V349.1H328.0V347.3H329.0V355.7H330.0V360.0H331.0V359.2H332.0V354.1H333.0V351.6H334.0V354.3H335.0V344.9H336.0V347.9H337.0V346.4H338.0V344.4H339.0V342.5H340.0V344.1H341.0V345.9H342.0V349.4H343.0V346.2H344.0V342.9H345.0V351.4H346.0V350.8H347.0V358.8H348.0V350.0H349.0V341.4H350.0V339.6H351.0V352.1H352.0V343.5H353.0V347.9H354.0V351.3H355.0V358.9H356.0V358.7H357.0V363.9H358.0V355.9H359.0V358.6H360.0V355.0H361.0V357.3H362.0V351.6H363.0V355.8H364.0V356.4H365.0V354.2H366.0V360.1H367.0V346.8H368.0V348.8H369.0V354.7H370.0V347.1H371.0V352.4H372.0V347.8H373.0V349.6H374.0V349.7H375.0V350.9H376.0V354.0H377.0V354.6H378.0V346.1H379.0V346.9H380.0V349.8H381.0V357.8H382.0V362.1H383.0V365.2H384.0V370.5H385.0V361.9H386.0V358.7H387.0V356.7H388.0V359.7H389.0V353.0H390.0V354.1H391.0V358.1H392.0V347.9H393.0V352.7H394.0V360.1H395.0V353.4H396.0V355.7H397.0V358.7H398.0V351.2H399.0V348.0H400.0V350.5H401.0V353.6H402.0V358.7H403.0V357.6H404.0V356.2H405.0V351.6H406.0V361.6H407.0V355.6H408.0V361.0H409.0V357.1H410.0V357.1H411.0V347.0H412.0V352.0H413.0V350.7H414.0V346.7H415.0V347.4H416.0V350.7H417.0V351.0H418.0V345.7H419.0V342.5H420.0V342.4H421.0V355.1H422.0V352.4H423.0V354.3H424.0V351.4H425.0V352.8H426.0V344.8H427.0V349.8H428.0V350.0H429.0V344.9H430.0V344.7H431.0V344.7H432.0V350.0H433.0V352.1H434.0V352.0H435.0V348.7H436.0V350.6H437.0V347.9H438.0V344.7H439.0V348.7H440.0V345.7H441.0V351.3H442.0V350.7H443.0V344.8H444.0V348.2H445.0V350.0H446.0V349.7H447.0V354.7H448.0V349.2H449.0V352.5H450.0V355.2H451.0V351.5H452.0V354.6H453.0V354.3H454.0V349.8H455.0V356.2H456.0V359.6H457.0V359.3H458.0V363.7H459.0V356.8H460.0V352.0H461.0V351.4H462.0V348.1H463.0V349.9H464.0V347.7H465.0V343.4H466.0V348.3H467.0V343.5H468.0V339.7H469.0V342.1H470.0V338.9H471.0V342.6H472.0V344.4H473.0V347.2H474.0V351.8H475.0V358.6H476.0V358.5H477.0V356.0H478.0V359.2H479.0V360.2H480.0V362.4H481.0V360.3H482.0V366.0H483.0V358.5H484.0V358.0H485.0V356.5H486.0V352.5H487.0V357.9H488.0V360.3H489.0V356.4H490.0V352.7H491.0V351.1H492.0V354.1H493.0V352.6H494.0V355.2H495.0V352.2H496.0V359.6H497.0V355.4H498.0V359.4H499.0V358.2H500.0V362.7H501.0V366.4H502.0V368.7H503.0V364.8H504.0V364.3H505.0V365.8H506.0V367.2H507.0V368.0H508.0V360.3H509.0V365.1H510.0V374.3H511.0V360.2H512.0V357.8H513.0V350.1H514.0V338.3H515.0V352.8H516.0V400Z" fill="#000"/>
<path d="M219 326.8H516.3" stroke="#6a6a6a" stroke-width="1.1" opacity=".85"/>
<path d="M316.5 297V314M417.5 297V314" stroke="#fff" stroke-width="1"/>
</g>
<g id="link" stroke="#a0a0a0" stroke-width="1.5" fill="none"><circle cx="577.6" cy="6.2" r="2.9"/><circle cx="586" cy="6.2" r="2.9"/><path d="M577.6 6.2H586"/></g>
<g id="cliparrow"><path d="M612.5 148.6L624.3 139.8V142.8H636.4V154.4H624.3V157.4Z" fill="#f59aa2"/><text x="628.3" y="151.4" text-anchor="middle" font-size="7.2" fill="#fff" font-family='"Liberation Sans",sans-serif'>CLIP</text></g>
</svg>
<div class="sm" style="left:14.6px;top:-2.3px;width:30px">Max.<br>Peak</div>
<div class="sm" style="left:52px;top:-2.3px;width:30px">Max.<br>RMS</div>
<div class="val" style="left:9.5px;top:22.5px;width:40px">–4.55</div>
<div class="val" style="left:46.8px;top:22.5px;width:40px">–15.51</div>
<div class="sm" style="left:653px;top:-2.3px;width:30px">Max.<br>Peak</div>
<div class="sm" style="left:690.4px;top:-2.3px;width:30px">Max.<br>RMS</div>
<div class="val" style="left:647.9px;top:22.5px;width:40px">–0.85</div>
<div class="val" style="left:685px;top:22.5px;width:40px">–9.61</div>
<div class="lbl" style="left:110.5px;top:-0.2px">Gain</div>
<div class="lbl" style="left:166px;top:-0.2px">Clip</div>
<div class="lbl" style="left:541px;top:-0.2px">Gain</div>
<div class="lbl" style="left:596.8px;top:-0.2px">Ceiling</div>
<div class="lbl" style="left:225.3px;top:170.5px">Mode</div>
<div class="lbl" style="left:225.3px;top:209.5px">Soft−Clip<br>Saturator</div>
<div class="lbl" style="left:225.3px;top:265.5px">Oversampling</div>
<div class="lbl" style="left:393.8px;top:265.5px">Ceiling</div>
<button class="btn" style="left:314px;top:169px;width:195px;height:20px;line-height:19.5px">Soft Clip Classic</button>
<button class="btn" style="left:315px;top:262.7px;width:65.7px">x32</button>
<button class="btn" style="left:443.3px;top:262.7px;width:65.7px">Off</button>
<div class="knob kv" style="left:124px;top:127.3px"></div>
<div class="knob kv" style="left:156.3px;top:130.8px"></div>
<div class="knob kv" style="left:557.8px;top:130.3px"></div>
<div style="position:absolute;left:590.6px;top:130.3px;width:20.6px;height:36px;background:#fff;border-radius:2px"><div class="knob kv" style="left:0;top:0;opacity:.33"></div></div>
<div class="knob kh" style="left:452.8px;top:203px"></div>
<div class="hdr" style="left:219px;width:97px">Output+Reduction</div>
<div class="hdr" style="left:317px;width:100px">Full</div>
<div class="hdr" style="left:418px;width:98px">Slow</div>

</div></body></html>
